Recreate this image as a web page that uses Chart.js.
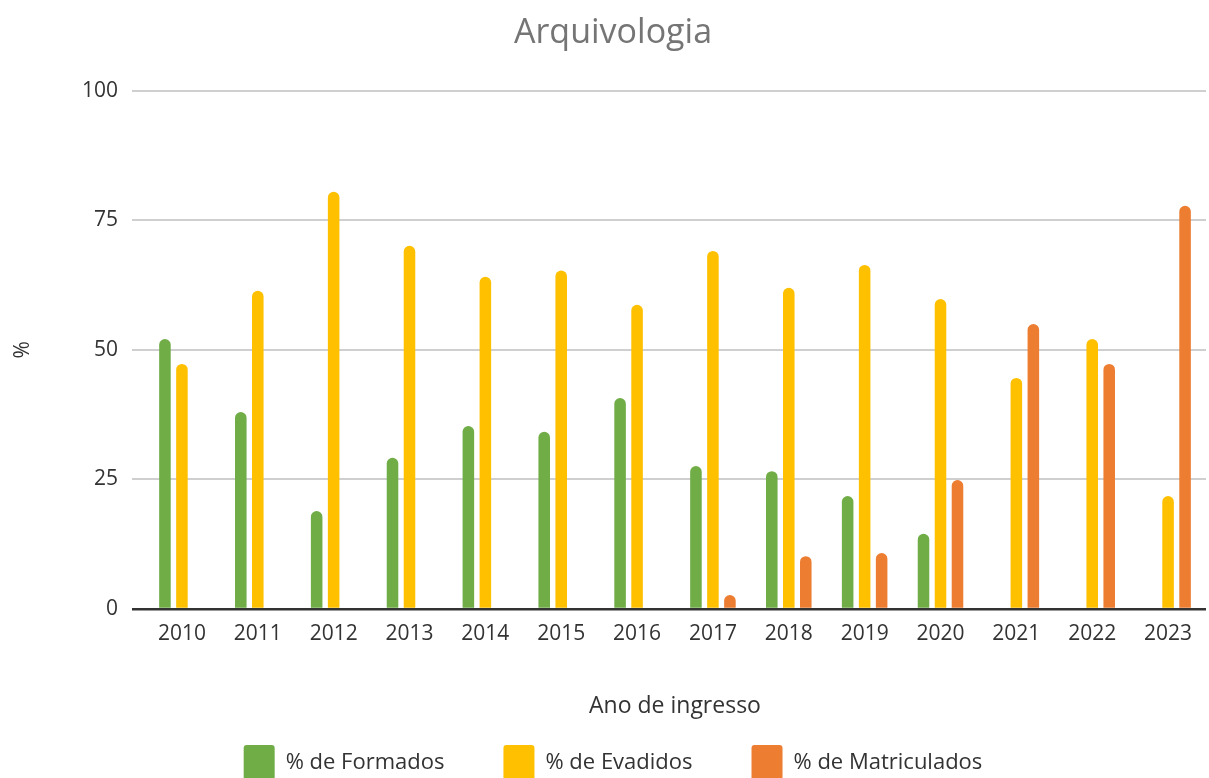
<!DOCTYPE html>
<html>
<head>
<meta charset="utf-8">
<title>Arquivologia</title>
<script src="https://cdn.jsdelivr.net/npm/chart.js@4.4.1/dist/chart.umd.min.js"></script>
<style>
  html, body { margin: 0; padding: 0; background: #fff; overflow: hidden; }
  #wrap { width: 1209px; height: 778px; overflow: hidden; }
</style>
</head>
<body>
<div id="wrap"><canvas id="chart" width="1209" height="791"></canvas></div>
<script>
// Arquivologia — % formados / evadidos / matriculados por ano de ingresso

const YEARS = ['2010', '2011', '2012', '2013', '2014', '2015', '2016',
               '2017', '2018', '2019', '2020', '2021', '2022', '2023'];

const FORMADOS = [52.1, 38.0, 18.9, 29.2, 35.3, 34.2, 40.7,
                  27.6, 26.6, 21.8, 14.5, null, null, null];
const EVADIDOS = [47.3, 61.4, 80.5, 70.1, 64.1, 65.3, 58.7,
                  69.1, 62.0, 66.4, 59.8, 44.6, 52.1, 21.8];
const MATRICULADOS = [null, null, null, null, null, null, null,
                      2.7, 10.2, 10.8, 24.9, 55.0, 47.3, 77.8];

const Y_TICKS = [0, 25, 50, 75, 100];

const COLORS = {
  green: '#70ad47',
  yellow: '#ffc000',
  orange: '#ed7d31',
  grid: '#cfcfcf',
  axis: '#333333',
  text: '#333333',
  title: '#757575',
};

const FONT = '"Open Sans", "Noto Sans", sans-serif';

function barSet(label, data, color) {
  return {
    label,
    data,
    backgroundColor: color,
    borderWidth: 0,
    borderRadius: { topLeft: 6, topRight: 6 },
    borderSkipped: 'bottom',
    barPercentage: 0.68,
    categoryPercentage: 0.672,
  };
}

new Chart(document.getElementById('chart'), {
  type: 'bar',
  data: {
    labels: YEARS,
    datasets: [
      barSet('% de Formados', FORMADOS, COLORS.green),
      barSet('% de Evadidos', EVADIDOS, COLORS.yellow),
      barSet('% de Matriculados', MATRICULADOS, COLORS.orange),
    ],
  },
  options: {
    responsive: false,
    animation: false,
    layout: { padding: { left: 20, right: 3, top: 0, bottom: 0 } },
    plugins: {
      title: {
        display: true,
        text: 'Arquivologia',
        color: COLORS.title,
        font: { family: FONT, size: 34, weight: 'normal' },
        padding: { top: 13, bottom: 37 },
      },
      legend: {
        position: 'bottom',
        labels: {
          color: COLORS.text,
          font: { family: FONT, size: 22 },
          boxWidth: 31,
          boxHeight: 36,
          padding: 59,
          useBorderRadius: true,
          borderRadius: 3,
        },
      },
      tooltip: { enabled: false },
    },
    scales: {
      x: {
        grid: { display: false, drawTicks: false },
        border: { display: false },
        ticks: {
          color: COLORS.text,
          font: { family: FONT, size: 21 },
          padding: 12,
          maxRotation: 0,
        },
        title: {
          display: true,
          text: 'Ano de ingresso',
          color: COLORS.text,
          font: { family: FONT, size: 23 },
          padding: { top: 0, bottom: -34 },
        },
        afterFit: scale => { scale.height = 77; },
      },
      y: {
        min: 0,
        max: 100,
        afterBuildTicks: scale => { scale.ticks = Y_TICKS.map(v => ({ value: v })); },
        grid: {
          color: ctx => (ctx.tick && ctx.tick.value === 0 ? COLORS.axis : COLORS.grid),
          lineWidth: ctx => (ctx.tick && ctx.tick.value === 0 ? 2.5 : 2),
          tickLength: 12,
        },
        border: { display: false },
        ticks: {
          color: COLORS.text,
          font: { family: FONT, size: 21 },
          padding: 14,
        },
        title: {
          display: true,
          text: '%',
          color: COLORS.text,
          font: { family: FONT, size: 21 },
          padding: { top: -10, bottom: 0 },
        },
        afterFit: scale => { scale.width = 124; },
      },
    },
  },
});
</script>
</body>
</html>
